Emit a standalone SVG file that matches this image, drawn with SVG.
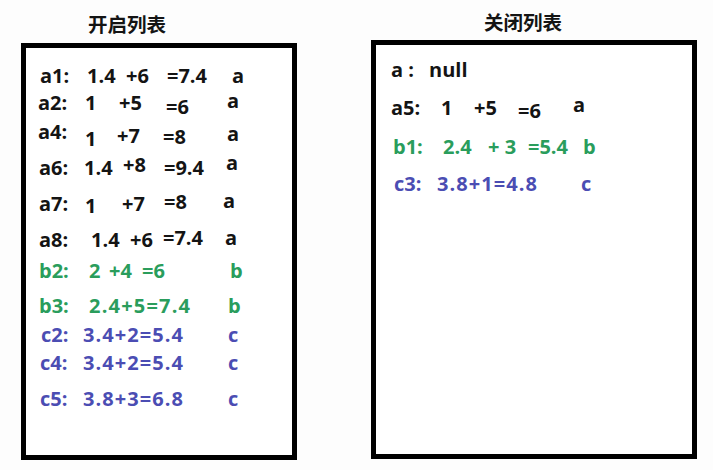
<svg xmlns="http://www.w3.org/2000/svg" width="713" height="470" viewBox="0 0 713 470">
<style>
text{font-family:"Open Sans","Liberation Sans",sans-serif;font-weight:bold;font-size:20px}
.k{fill:#141414}
.g{fill:#2a9d5c}
.b{fill:#4b4db3}
.t{font-family:"Noto Sans CJK SC",sans-serif;font-size:19.5px;fill:#141414;text-anchor:middle}
.box{fill:#fff;stroke:#000;stroke-width:5}
</style>
<rect width="713" height="470" fill="#fdfdfd"/>
<g id="open-list">
<text class="t" x="127" y="32">开启列表</text>
<rect class="box" x="23.5" y="45.5" width="271" height="412"/>
<g class="k">
<text x="40" y="83">a1:</text><text x="87" y="83">1.4</text><text x="126" y="83">+6</text><text x="167" y="83">=7.4</text><text x="232" y="83">a</text>
<text x="38" y="110">a2:</text><text x="85" y="110">1</text><text x="119" y="110">+5</text><text x="166" y="114">=6</text><text x="227" y="108">a</text>
<text x="38" y="139">a4:</text><text x="85" y="146">1</text><text x="117" y="143">+7</text><text x="163" y="144">=8</text><text x="227" y="141">a</text>
<text x="39" y="175">a6:</text><text x="84" y="175">1.4</text><text x="123" y="172">+8</text><text x="164" y="175">=9.4</text><text x="226" y="170">a</text>
<text x="39" y="211">a7:</text><text x="85" y="213">1</text><text x="122" y="211">+7</text><text x="164" y="209">=8</text><text x="223" y="208">a</text>
<text x="39" y="247">a8:</text><text x="91" y="247">1.4</text><text x="130" y="247">+6</text><text x="163" y="245">=7.4</text><text x="225" y="245">a</text>
</g>
<g class="g">
<text x="39" y="278">b2:</text><text x="89" y="278">2</text><text x="109" y="278">+4</text><text x="142" y="278">=6</text><text x="230" y="278">b</text>
<text x="39" y="313">b3:</text><text x="89" y="313" textLength="101" lengthAdjust="spacing">2.4+5=7.4</text><text x="228" y="313">b</text>
</g>
<g class="b">
<text x="41" y="342">c2:</text><text x="83" y="342" textLength="100" lengthAdjust="spacing">3.4+2=5.4</text><text x="228" y="342">c</text>
<text x="40" y="370">c4:</text><text x="83" y="370" textLength="100" lengthAdjust="spacing">3.4+2=5.4</text><text x="228" y="370">c</text>
<text x="40" y="406">c5:</text><text x="83" y="406" textLength="100" lengthAdjust="spacing">3.8+3=6.8</text><text x="228" y="406">c</text>
</g>
</g>
<g id="closed-list">
<text class="t" x="523" y="30">关闭列表</text>
<rect class="box" x="373.5" y="42.5" width="321" height="414"/>
<g class="k">
<text x="391" y="77">a :</text><text x="429" y="77">null</text>
<text x="391" y="115">a5:</text><text x="441" y="115">1</text><text x="474" y="115">+5</text><text x="518" y="118">=6</text><text x="573" y="112">a</text>
</g>
<g class="g">
<text x="393" y="154">b1:</text><text x="443" y="154">2.4</text><text x="488" y="154">+ 3</text><text x="528" y="154">=5.4</text><text x="583" y="154">b</text>
</g>
<g class="b">
<text x="394" y="191">c3:</text><text x="437" y="191" textLength="100" lengthAdjust="spacing">3.8+1=4.8</text><text x="581" y="191">c</text>
</g>
</g>
</svg>
